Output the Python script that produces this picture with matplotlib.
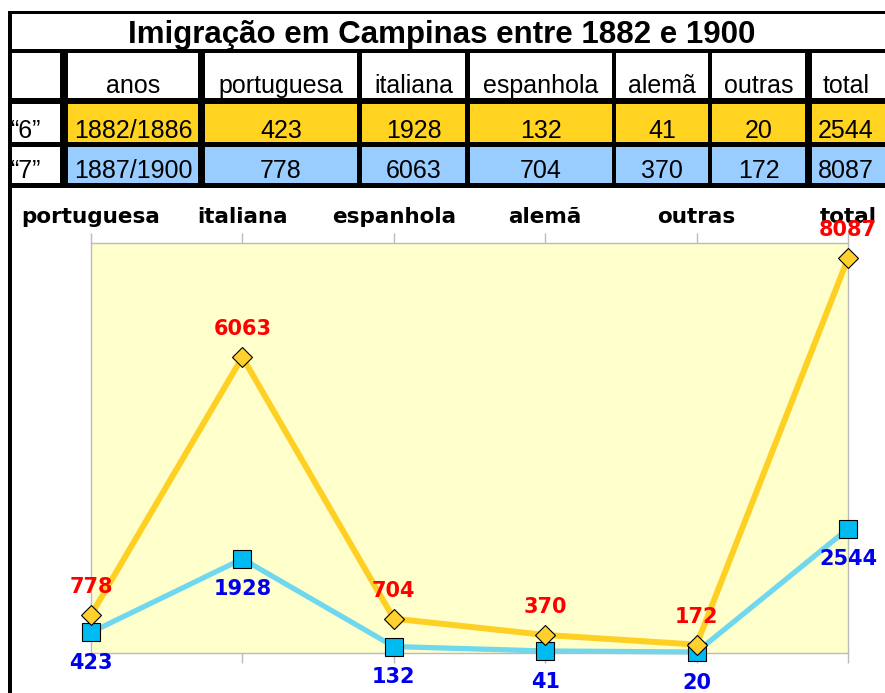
import matplotlib.pyplot as plt
from matplotlib.patches import Rectangle

# data
categorias = ["portuguesa", "italiana", "espanhola", "alemã", "outras", "total"]
periodo_6 = "1882/1886"
periodo_7 = "1887/1900"
valores_6 = [423, 1928, 132, 41, 20, 2544]
valores_7 = [778, 6063, 704, 370, 172, 8087]
titulo = "Imigração em Campinas entre 1882 e 1900"

W, H = 885, 693
fig = plt.figure(figsize=(W / 100, H / 100), dpi=100)
fig.patch.set_facecolor("white")


def fx(x):
    return x / W


def fy(y):
    return 1 - y / H


def caixa(x0, y0, x1, y1, cor):
    fig.add_artist(Rectangle((fx(x0), fy(y1)), fx(x1) - fx(x0), fy(y0) - fy(y1),
                             transform=fig.transFigure, facecolor=cor,
                             edgecolor="none", zorder=1))


def texto(x, y, s, **kw):
    fig.text(fx(x), fy(y), s, family="Liberation Sans", **kw)


amarelo = "#FFD320"
azul = "#99CCFF"

# table frame
caixa(8, 11, W + 5, 188, "black")
caixa(8, 188, 12, H + 5, "black")
caixa(12, 14, W + 5, 49, "white")
texto(442, 43, titulo, fontsize=22.5, fontweight="bold", ha="center", va="baseline")

colunas = [(12, 60), (68, 198), (205, 357), (362, 465), (470, 612),
           (616, 708), (712, 805), (812, W + 40)]
cabecalho = ["", "anos"] + categorias
linha_6 = ["\u201c6\u201d", periodo_6] + [str(v) for v in valores_6]
linha_7 = ["\u201c7\u201d", periodo_7] + [str(v) for v in valores_7]

for i, (x0, x1) in enumerate(colunas):
    xc = (x0 + x1) / 2 if i < len(colunas) - 1 else 846
    caixa(x0, 53, x1, 98, "white")
    caixa(x0, 104, x1, 142, "white" if i == 0 else amarelo)
    caixa(x0, 147, x1, 183, "white" if i == 0 else azul)
    if i == 0:
        texto(10, 138, linha_6[i], fontsize=18, ha="left", va="baseline")
        texto(10, 178, linha_7[i], fontsize=18, ha="left", va="baseline")
        continue
    texto(xc, 93, cabecalho[i], fontsize=18, ha="center", va="baseline")
    texto(xc, 138, linha_6[i], fontsize=18, ha="center", va="baseline")
    texto(xc, 178, linha_7[i], fontsize=18, ha="center", va="baseline")

# chart
ax = fig.add_axes([fx(91), fy(653), fx(848) - fx(91), fy(243) - fy(653)])
ax.set_facecolor("#FFFFCC")
x = list(range(len(categorias)))

ax.plot(x, valores_6, color="#6FD8EE", lw=3.8, zorder=2, clip_on=False)
ax.plot(x, valores_7, color="#FFD024", lw=4.3, zorder=3, clip_on=False)
ax.plot(x, valores_7, ls="none", marker="D", ms=10.5, mfc="#FFD02E",
        mec="black", mew=0.8, zorder=5, clip_on=False)
ax.plot(x, valores_6, ls="none", marker="s", ms=13.5, mfc="#00BBF2",
        mec="black", mew=0.8, zorder=4, clip_on=False)

for xi, v in zip(x, valores_7):
    ax.annotate(str(v), (xi, v), xytext=(0, 20), textcoords="offset points",
                ha="center", va="center", color="#FF0000", fontsize=15,
                fontweight="bold", family="DejaVu Sans", annotation_clip=False)
for xi, v in zip(x, valores_6):
    ax.annotate(str(v), (xi, v), xytext=(0, -22), textcoords="offset points",
                ha="center", va="center", color="#0000EE", fontsize=15,
                fontweight="bold", family="DejaVu Sans", annotation_clip=False)

ax.set_xlim(0, len(categorias) - 1)
ax.set_ylim(0, 8400)
ax.set_yticks([])
ax.set_xticks(x)
ax.set_xticklabels(categorias, fontsize=15.5, fontweight="bold", family="DejaVu Sans")
ax.tick_params(axis="x", top=True, bottom=True, labeltop=True, labelbottom=False,
               length=7.2, width=1, color="#BBBBBB", pad=4)
for s in ax.spines.values():
    s.set_color("#BBBBBB")
    s.set_linewidth(1)

plt.savefig("out.png", dpi=100)
